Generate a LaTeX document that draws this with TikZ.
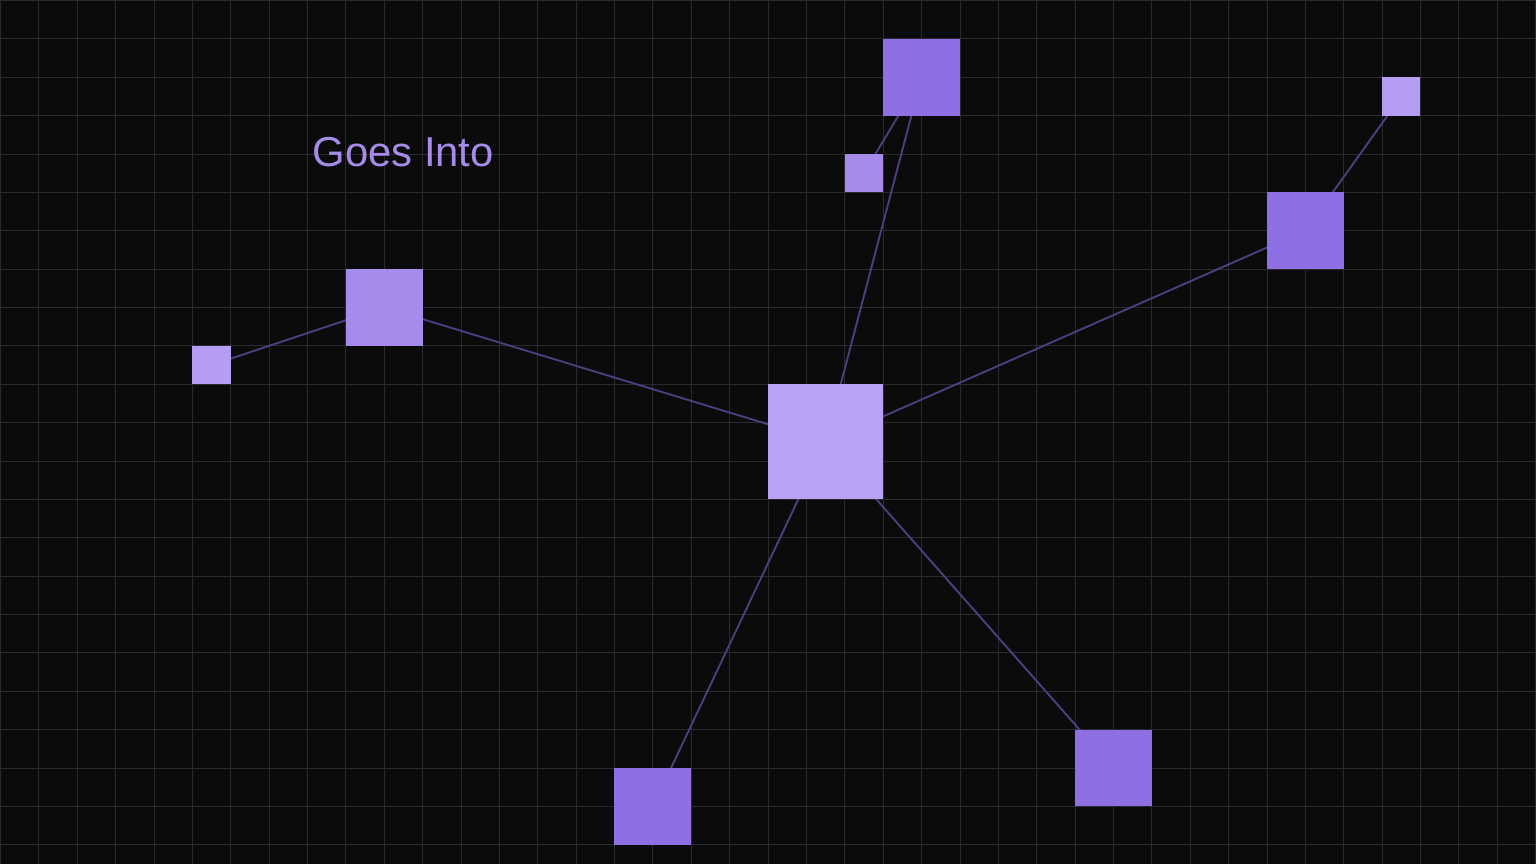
\documentclass[tikz,border=0pt]{standalone}
\usepackage{fontspec}
\setmainfont{Liberation Sans}
\usepackage{tikz}
\definecolor{bgcol}{HTML}{0B0B0B}
\definecolor{gridcol}{HTML}{2A2A2E}
\definecolor{linkcol}{HTML}{4B3F7E}
\definecolor{deep}{HTML}{8F70E4}
\definecolor{mid}{HTML}{A78BEA}
\definecolor{pale}{HTML}{B59DF3}
\definecolor{core}{HTML}{B8A2F5}
\pgfdeclarelayer{back}
\pgfdeclarelayer{links}
\pgfsetlayers{back,links,main}

\begin{document}
\begin{tikzpicture}[y=-1cm,
    box/.style={inner sep=0pt, outer sep=0pt, minimum size=#1cm},
    link/.style={linkcol, line width=1.4pt}]

    % Background and grid
    \begin{pgfonlayer}{back}
    \fill[bgcol] (0, 0) rectangle (40, 22.5);
    \draw[gridcol, line width=0.6pt] (0, 0) grid (40, 22.5);
    \end{pgfonlayer}
    \useasboundingbox (0, 0) rectangle (40, 22.5);

    % The title
    \node[mid, anchor=base west, inner sep=0pt] (title) at (8.125, 4.32)
        {\fontsize{31}{37}\selectfont Goes Into};

    % The squares
    \node[box=3, fill=core] (hub) at (21.5, 11.5) {};
    \node[box=2, fill=deep] (top) at (24, 2) {};
    \node[box=1, fill=mid] (topleaf) at (22.5, 4.5) {};
    \node[box=2, fill=deep] (right) at (34, 6) {};
    \node[box=1, fill=pale] (rightleaf) at (36.5, 2.5) {};
    \node[box=2, fill=mid] (left) at (10, 8) {};
    \node[box=1, fill=pale] (leftleaf) at (5.5, 9.5) {};
    \node[box=2, fill=deep] (bottom) at (17, 21) {};
    \node[box=2, fill=deep] (lowright) at (29, 20) {};

    % Links (behind the squares)
    \begin{pgfonlayer}{links}
    \draw[link] (hub.center) -- (top.center);
    \draw[link] (hub.center) -- (right.center);
    \draw[link] (hub.center) -- (left.center);
    \draw[link] (hub.center) -- (bottom.center);
    \draw[link] (hub.center) -- (lowright.center);
    \draw[link] (top.center) -- (topleaf.center);
    \draw[link] (right.center) -- (rightleaf.center);
    \draw[link] (left.center) -- (leftleaf.center);
    \end{pgfonlayer}

\end{tikzpicture}
\end{document}
